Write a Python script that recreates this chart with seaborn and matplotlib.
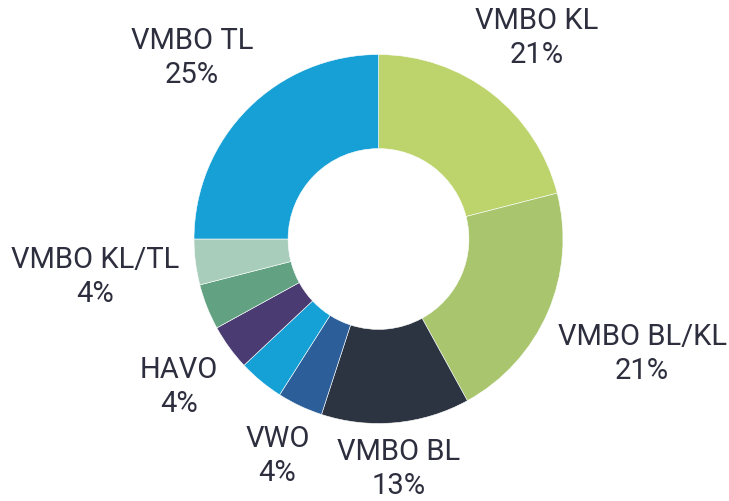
import numpy as np
import matplotlib
matplotlib.use("Agg")
import matplotlib.pyplot as plt
import seaborn as sns

# ---------------------------
# data (share of pupils, %)
# ---------------------------
categories = ["VMBO KL", "VMBO BL/KL", "VMBO BL", "VWO", "VMBO GL",
              "HAVO", "HAVO/VWO", "VMBO KL/TL", "VMBO TL"]
shares = [21, 21, 13, 4, 4, 4, 4, 4, 25]
show_label = [True, True, True, True, False, True, False, True, True]
colors = ["#bdd46c", "#a9c66e", "#2b3440", "#2c5f99", "#15a0d6",
          "#4a3c72", "#62a283", "#a8cdbb", "#17a0d5"]

sns.set_theme(style="white")
plt.rcParams["font.family"] = ["Roboto", "DejaVu Sans"]
TEXT = "#2d2e3e"

W, H, DPI = 729, 501, 100
R_PX = 184.5          # outer radius in pixels
CX, CY = 378.5, 262   # centre, pixels from bottom-left
# small hand tweaks of label placement, pixels (x, y up)
NUDGE = {"VMBO KL": (-11, 7), "VMBO TL": (8, 8), "VMBO KL/TL": (8, -8),
         "HAVO": (0, -8), "VWO": (0, -3), "VMBO BL": (-5, 5),
         "VMBO BL/KL": (-5, -20)}

fig = plt.figure(figsize=(W / DPI, H / DPI), dpi=DPI)
ax = fig.add_axes([0, 0, 1, 1])

wedges, _ = ax.pie(shares, colors=colors, startangle=90, counterclock=False,
                   radius=1, wedgeprops=dict(width=0.51, edgecolor="white", linewidth=0.4))

# fix the view after pie() has autoscaled
ax.set_aspect("auto")
ax.set_xlim(-CX / R_PX, (W - CX) / R_PX)
ax.set_ylim(-CY / R_PX, (H - CY) / R_PX)
ax.axis("off")

fig.canvas.draw()
renderer = fig.canvas.get_renderer()
for w, name, pct, show in zip(wedges, categories, shares, show_label):
    if not show:
        continue
    ang = np.deg2rad((w.theta1 + w.theta2) / 2)
    c, s = np.cos(ang), np.sin(ang)
    k = 1.14 + 0.03 * s
    x0, y0 = k * c, k * s
    t = ax.text(x0, y0, f"{name}\n{pct}%", ha="center", va="center",
                fontsize=21, color=TEXT, linespacing=1.27)
    bb = t.get_window_extent(renderer)
    wd, hd = bb.width / R_PX, bb.height / R_PX
    nx, ny = NUDGE.get(name, (0, 0))
    t.set_position((x0 + c * wd / 2 + nx / R_PX, y0 + s * hd / 2 + ny / R_PX))

fig.savefig("out.png", dpi=DPI, facecolor="white")
